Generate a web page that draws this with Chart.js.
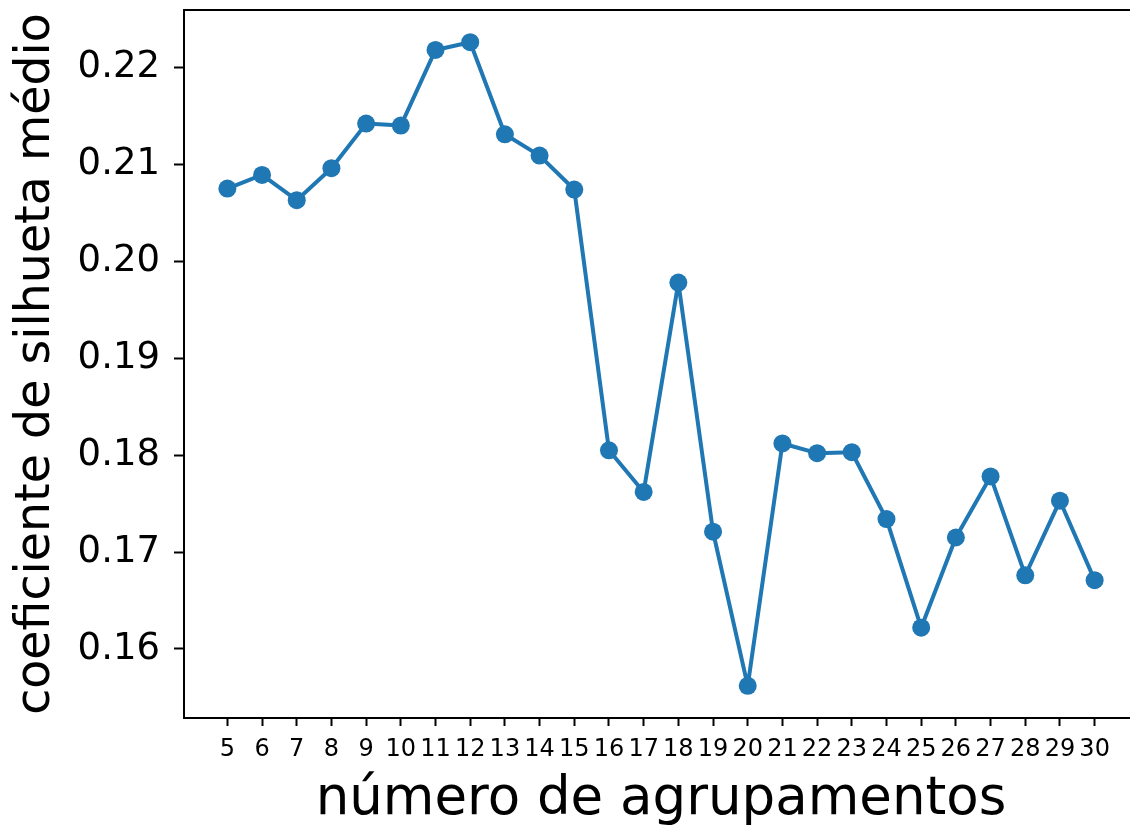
<!DOCTYPE html>
<html>
<head>
<meta charset="utf-8">
<script src="https://cdn.jsdelivr.net/npm/chart.js@4"></script>
<style>
  html, body { margin: 0; padding: 0; background: #fff; overflow: hidden; }
  /* the original figure is cut off on the right, just past its right spine */
  #wrap { width: 1138px; height: 834px; }
</style>
</head>
<body>
<div id="wrap"><canvas id="chart" width="1138" height="834"></canvas></div>
<script>
// data
const K_VALUES = [5, 6, 7, 8, 9, 10, 11, 12, 13, 14, 15, 16, 17, 18, 19, 20, 21, 22, 23, 24, 25, 26, 27, 28, 29, 30];
const SILHOUETTE = [0.2075, 0.2089, 0.2063, 0.2096, 0.2142, 0.2140, 0.2218, 0.2226, 0.2131, 0.2109,
                    0.2074, 0.1805, 0.1762, 0.1978, 0.1721, 0.1562, 0.1812, 0.1802, 0.1803, 0.1734,
                    0.1622, 0.1715, 0.1778, 0.1676, 0.1753, 0.1671];
const Y_TICKS = [0.16, 0.17, 0.18, 0.19, 0.20, 0.21, 0.22];

const X_TITLE = "número de agrupamentos";
const Y_TITLE = "coeficiente de silhueta médio";

const FONT = "'DejaVu Sans', sans-serif";
const BLUE = "#1f77b4";

// matplotlib-like 5% margins
const xSpan = K_VALUES[K_VALUES.length - 1] - K_VALUES[0];
const yMin = Math.min(...SILHOUETTE), yMax = Math.max(...SILHOUETTE);
const ySpan = yMax - yMin;

// frame around the plot area (top + right spines)
const framePlugin = {
  id: "frame",
  afterDraw(chart) {
    const { ctx, chartArea: a } = chart;
    ctx.save();
    ctx.strokeStyle = "#000";
    ctx.lineWidth = 2;
    ctx.strokeRect(a.left, a.top, a.right - a.left, a.bottom - a.top);
    ctx.restore();
  }
};

new Chart(document.getElementById("chart"), {
  type: "line",
  data: {
    datasets: [{
      data: K_VALUES.map((k, i) => ({ x: k, y: SILHOUETTE[i] })),
      borderColor: BLUE,
      backgroundColor: BLUE,
      borderWidth: 4,
      borderJoinStyle: "round",
      pointRadius: 9,
      pointHoverRadius: 9,
      pointBorderWidth: 0,
      tension: 0
    }]
  },
  options: {
    responsive: false,
    animation: false,
    layout: { autoPadding: false, padding: { top: 10, right: 0, left: 0, bottom: 0 } },
    plugins: { legend: { display: false }, tooltip: { enabled: false } },
    scales: {
      x: {
        type: "linear",
        min: K_VALUES[0] - 0.05 * xSpan,
        max: K_VALUES[K_VALUES.length - 1] + 0.05 * xSpan,
        afterBuildTicks: s => { s.ticks = K_VALUES.map(v => ({ value: v })); },
        afterFit: s => { s.height = 116; s.paddingLeft = 0; s.paddingRight = 0; },
        grid: { drawOnChartArea: false, tickLength: 8, tickWidth: 2, tickColor: "#000" },
        border: { display: true, color: "#000", width: 2 },
        ticks: {
          color: "#000", font: { family: FONT, size: 24 }, padding: 9,
          maxRotation: 0, autoSkip: false,
          callback: v => String(v)
        },
        title: {
          display: true, text: X_TITLE, color: "#000",
          font: { family: FONT, size: 53 }, padding: { top: 0, bottom: 2 }
        }
      },
      y: {
        min: yMin - 0.05 * ySpan,
        max: yMax + 0.05 * ySpan,
        afterBuildTicks: s => { s.ticks = Y_TICKS.map(v => ({ value: v })); },
        afterFit: s => { s.width = 184; s.paddingTop = 0; s.paddingBottom = 0; },
        grid: { drawOnChartArea: false, tickLength: 10, tickWidth: 2, tickColor: "#000" },
        border: { display: true, color: "#000", width: 2 },
        ticks: {
          color: "#000", font: { family: FONT, size: 37 }, padding: 14,
          callback: v => v.toFixed(2)
        },
        title: {
          display: true, text: Y_TITLE, color: "#000",
          font: { family: FONT, size: 47.5 }, padding: { top: 8, bottom: 0 }
        }
      }
    }
  },
  plugins: [framePlugin]
});
</script>
</body>
</html>
